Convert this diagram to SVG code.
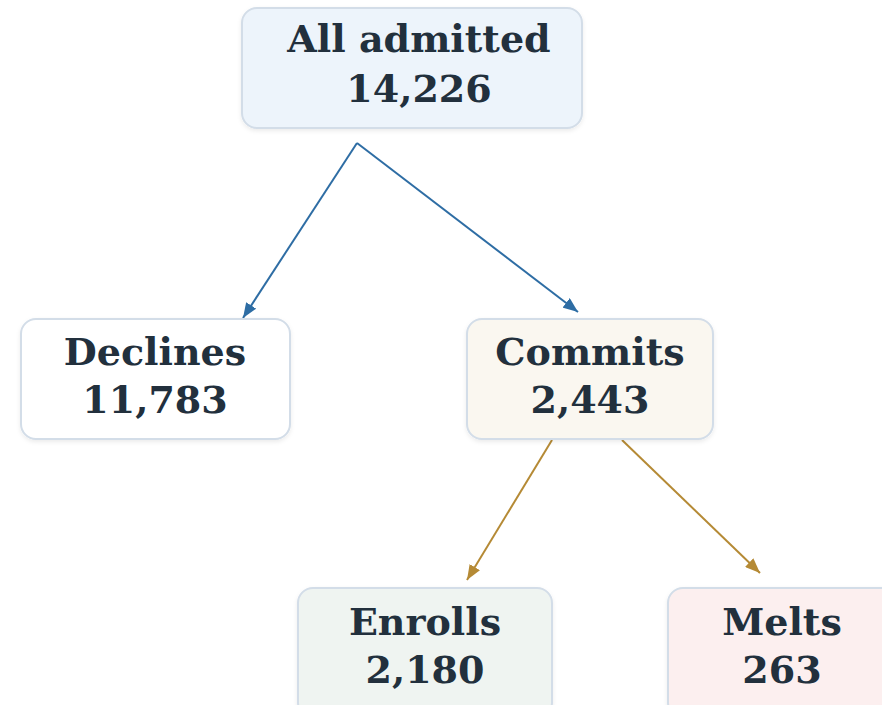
<svg xmlns="http://www.w3.org/2000/svg" width="882" height="705" viewBox="0 0 882 705">
  <style>
    .box { stroke: #d3dde8; stroke-width: 2; }
    .t { font-family: "DejaVu Serif", "Liberation Serif", serif; font-weight: bold; font-size: 38px; fill: #22303d; text-anchor: middle; }
    .blue { stroke: #2e6da4; stroke-width: 2; fill: none; }
    .gold { stroke: #b58a35; stroke-width: 2; fill: none; }
  </style>
  <defs>
    <filter id="sh" x="-10%" y="-10%" width="120%" height="130%">
      <feDropShadow dx="0" dy="2" stdDeviation="2" flood-color="#000" flood-opacity="0.08"/>
    </filter>
    <marker id="ab" markerWidth="16" markerHeight="12" refX="15" refY="6" orient="auto" markerUnits="userSpaceOnUse">
      <path d="M0,0 L15,6 L0,12 Z" fill="#2e6da4"/>
    </marker>
    <marker id="ag" markerWidth="16" markerHeight="12" refX="15" refY="6" orient="auto" markerUnits="userSpaceOnUse">
      <path d="M0,0 L15,6 L0,12 Z" fill="#b58a35"/>
    </marker>
  </defs>
  <rect width="882" height="705" fill="#ffffff"/>
  <g id="connectors">
    <path class="blue" d="M357,143 L243,318" marker-end="url(#ab)"/>
    <path class="blue" d="M357,143 L578,312" marker-end="url(#ab)"/>
    <path class="gold" d="M552,440 L467,580" marker-end="url(#ag)"/>
    <path class="gold" d="M622,440 L760,573" marker-end="url(#ag)"/>
  </g>
  <g id="all-admitted">
    <rect class="box" x="242" y="8" width="340" height="120" rx="15" fill="#edf4fb" filter="url(#sh)"/>
    <text class="t" x="419" y="52">All admitted</text>
    <text class="t" x="419" y="102">14,226</text>
  </g>
  <g id="declines">
    <rect class="box" x="21" y="319" width="269" height="120" rx="15" fill="#ffffff" filter="url(#sh)"/>
    <text class="t" x="155" y="365">Declines</text>
    <text class="t" x="155" y="413">11,783</text>
  </g>
  <g id="commits">
    <rect class="box" x="467" y="319" width="246" height="120" rx="15" fill="#faf7f0" filter="url(#sh)"/>
    <text class="t" x="590" y="365">Commits</text>
    <text class="t" x="590" y="413">2,443</text>
  </g>
  <g id="enrolls">
    <rect class="box" x="298" y="588" width="254" height="130" rx="15" fill="#eff4f1" filter="url(#sh)"/>
    <text class="t" x="425" y="635">Enrolls</text>
    <text class="t" x="425" y="683">2,180</text>
  </g>
  <g id="melts">
    <rect class="box" x="668" y="588" width="240" height="130" rx="15" fill="#fcefef" filter="url(#sh)"/>
    <text class="t" x="782" y="635">Melts</text>
    <text class="t" x="782" y="683">263</text>
  </g>
</svg>
